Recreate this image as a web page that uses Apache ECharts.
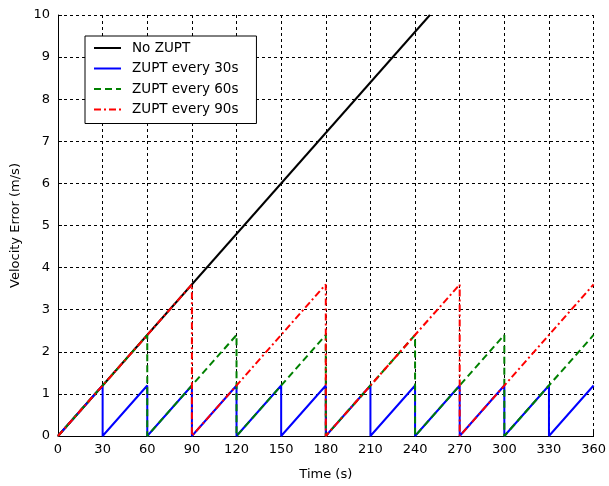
<!DOCTYPE html>
<html><head><meta charset="utf-8">
<script src="https://cdn.jsdelivr.net/npm/echarts@6/dist/echarts.min.js"></script>
<style>html,body{margin:0;padding:0;background:#fff}#c{width:609px;height:486px}</style>
</head><body><div id="c"></div>
<script>
var xTicks = [0,30,60,90,120,150,180,210,240,270,300,330,360];
var yTicks = [0,1,2,3,4,5,6,7,8,9,10];
var seriesNames = ['No ZUPT','ZUPT every 30s','ZUPT every 60s','ZUPT every 90s'];
var noZupt = [[0,0],[250,10]];
var zupt30 = [[0,0],[30,1.2],[30,0],[60,1.2],[60,0],[90,1.2],[90,0],[120,1.2],[120,0],[150,1.2],[150,0],[180,1.2],[180,0],[210,1.2],[210,0],[240,1.2],[240,0],[270,1.2],[270,0],[300,1.2],[300,0],[330,1.2],[330,0],[360,1.2]];
var zupt60 = [[0,0],[60,2.4],[60,0],[120,2.4],[120,0],[180,2.4],[180,0],[240,2.4],[240,0],[300,2.4],[300,0],[360,2.4]];
var zupt90 = [[0,0],[90,3.6],[90,0],[180,3.6],[180,0],[270,3.6],[270,0],[360,3.6]];

var font = '"DejaVu Sans", Verdana, sans-serif';
var chart = echarts.init(document.getElementById('c'), null, {renderer:'canvas'});
function ln(name, data, color, type, w){
  return {name:name, type:'line', data:data, symbol:'none', showSymbol:false, animation:false,
    lineStyle:{color:color, width:w, type:type}, itemStyle:{color:color}, clip:true};
}
chart.setOption({
  backgroundColor:'#fff',
  animation:false,
  grid:{left:58, top:15, width:538, height:424, containLabel:false},
  xAxis:{type:'value', min:0, max:360, interval:30,
    name:'Time (s)', nameLocation:'middle', nameGap:32,
    nameTextStyle:{fontFamily:font, fontSize:13, color:'#000'},
    axisLine:{show:true, lineStyle:{color:'#000', width:1}},
    axisTick:{show:true, inside:true, length:4, lineStyle:{color:'#000'}},
    axisLabel:{fontFamily:font, fontSize:13, color:'#000', margin:7},
    splitLine:{show:true, lineStyle:{color:'#000', type:[3,3], width:1}}},
  yAxis:{type:'value', min:0, max:10, interval:1,
    name:'Velocity Error (m/s)', nameLocation:'middle', nameGap:35, nameRotate:90,
    nameTextStyle:{fontFamily:font, fontSize:13, color:'#000'},
    axisLine:{show:true, lineStyle:{color:'#000', width:1}},
    axisTick:{show:true, inside:true, length:4, lineStyle:{color:'#000'}},
    axisLabel:{fontFamily:font, fontSize:13, color:'#000', margin:8},
    splitLine:{show:true, lineStyle:{color:'#000', type:[3,3], width:1}}},
  legend:{show:true, orient:'vertical', left:85, top:36,
    backgroundColor:'#fff', borderColor:'#000', borderWidth:1,
    padding:[5,18,7,8], itemGap:6.5, itemWidth:27, itemHeight:14,
    itemStyle:{opacity:0},
    textStyle:{fontFamily:font, fontSize:13.5, color:'#000', padding:[0,0,0,6]},
    data:seriesNames},
  series:[
    ln(seriesNames[0], noZupt, '#000000', 'solid', 2),
    ln(seriesNames[1], zupt30, '#0000ff', 'solid', 2),
    ln(seriesNames[2], zupt60, '#008000', [7,4], 2),
    ln(seriesNames[3], zupt90, '#ff0000', [7,3,2,3], 2)
  ]
});
</script></body></html>
